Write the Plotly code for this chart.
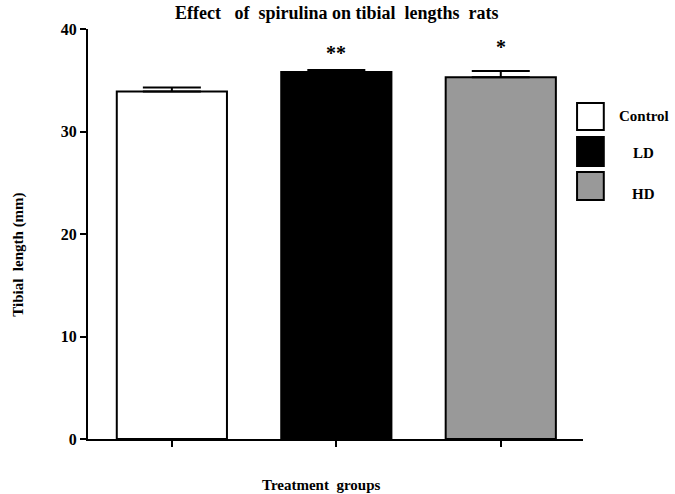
import plotly.graph_objects as go

groups = ["Control", "LD", "HD"]
means = [33.9, 35.8, 35.3]
errors = [0.4, 0.2, 0.6]
colors = ["#ffffff", "#000000", "#999999"]
stars = ["", "**", "*"]
y_ticks = [0, 10, 20, 30, 40]

FONT = "Liberation Serif"
SP = "&nbsp;"

fig = go.Figure()
fig.add_trace(go.Bar(
    x=list(range(len(groups))),
    y=means,
    width=0.67,
    marker=dict(color=colors, line=dict(color="#000000", width=2)),
    error_y=dict(type="data", symmetric=False, array=errors,
                 arrayminus=[0] * len(errors), color="#000000",
                 thickness=2, width=29),
    showlegend=False,
    hoverinfo="skip",
))

# significance stars
star_y = [0, 37.7, 38.2]
for i, s in enumerate(stars):
    if s:
        fig.add_annotation(x=i, y=star_y[i], text="<b>%s</b>" % s, showarrow=False,
                           xref="x", yref="y", yanchor="middle",
                           font=dict(family=FONT, size=20, color="#000"))

# manual legend (large boxes)
box_y = [(0.8195, 0.7537), (0.7366, 0.6659), (0.6512, 0.5829)]
text_y = [0.789, 0.698, 0.598]
for i, g in enumerate(groups):
    fig.add_shape(type="rect", xref="paper", yref="paper",
                  x0=0.988, x1=1.042, y0=box_y[i][1], y1=box_y[i][0],
                  fillcolor=colors[i], line=dict(color="#000", width=2))
    fig.add_annotation(x=1.123, y=text_y[i], xref="paper", yref="paper",
                       text="<b>%s</b>" % g, showarrow=False, xanchor="center",
                       yanchor="middle",
                       font=dict(family=FONT, size=15, color="#000"))

# title and axis titles
title = "Effect" + SP * 2 + " of" + SP + " spirulina on tibial" + SP + " lengths" + SP + " rats"
fig.add_annotation(x=0.503, y=1.04, xref="paper", yref="paper",
                   text="<b>%s</b>" % title,
                   showarrow=False, xanchor="center", yanchor="middle",
                   font=dict(family=FONT, size=18, color="#000"))
fig.add_annotation(x=-0.141, y=0.45, xref="paper", yref="paper",
                   text="<b>Tibial" + SP + " length (mm)</b>", textangle=-90,
                   showarrow=False, xanchor="center", yanchor="middle",
                   font=dict(family=FONT, size=15, color="#000"))
fig.add_annotation(x=0.47, y=-0.112, xref="paper", yref="paper",
                   text="<b>Treatment" + SP + " groups</b>",
                   showarrow=False, xanchor="center", yanchor="middle",
                   font=dict(family=FONT, size=15, color="#000"))

fig.update_layout(
    width=675, height=494,
    margin=dict(l=88, r=92, t=29, b=55),
    plot_bgcolor="#ffffff", paper_bgcolor="#ffffff",
    font=dict(family=FONT, color="#000"),
    xaxis=dict(range=[-0.51, 2.5], tickvals=list(range(len(groups))),
               ticktext=["", "", ""], showgrid=False, zeroline=False,
               showline=True, linecolor="#000", linewidth=2,
               ticks="outside", ticklen=6, tickwidth=2, tickcolor="#000"),
    yaxis=dict(range=[0, 40], tickvals=y_ticks,
               ticktext=["<b>%d</b>" % v for v in y_ticks],
               showgrid=False, zeroline=False, showline=True,
               linecolor="#000", linewidth=2, ticks="outside", ticklen=6,
               tickwidth=2, tickcolor="#000",
               tickfont=dict(family=FONT, size=16, color="#000")),
)

fig.write_html("out.html", config={"displayModeBar": False},
               post_script="document.body.style.margin='0px';")
